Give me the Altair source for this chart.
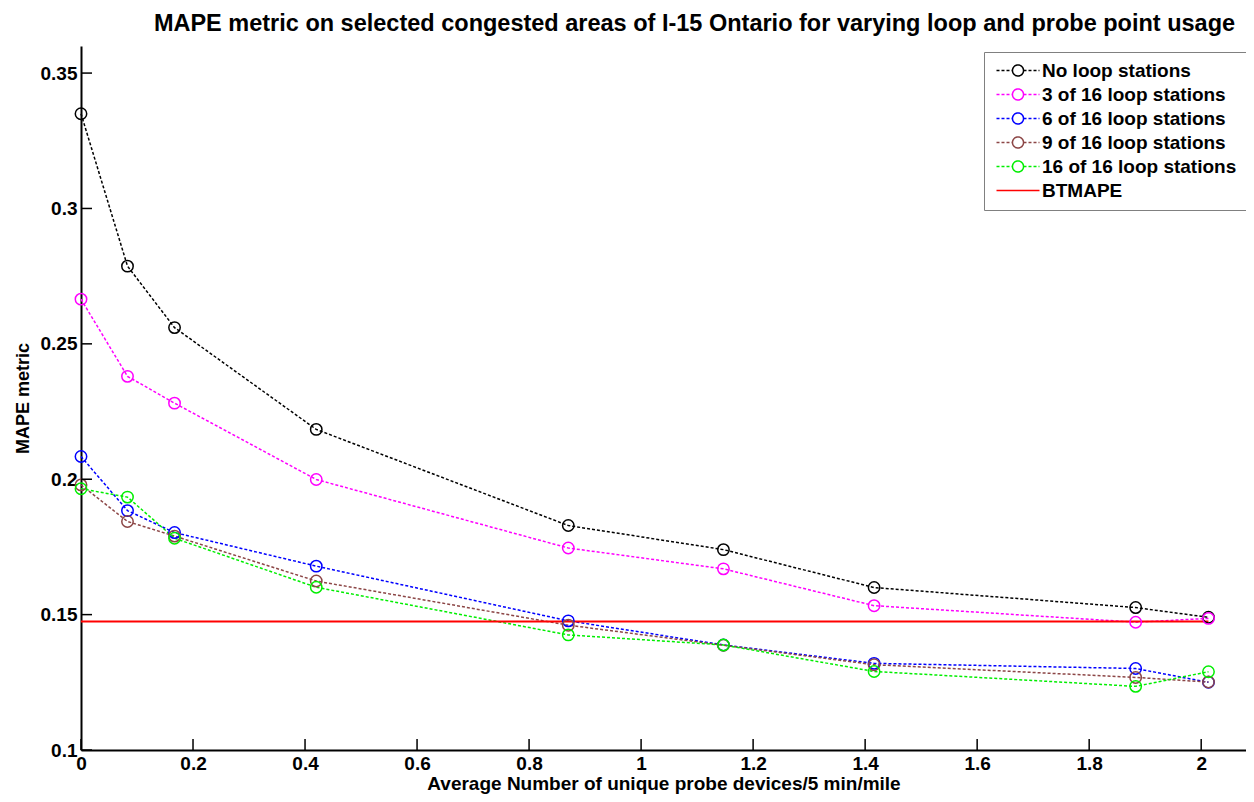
import altair as alt
import pandas as pd

# ---------------- data ----------------
x_vals = [0, 0.083, 0.167, 0.42, 0.87, 1.147, 1.416, 1.883, 2.013]
no_loop = [0.335, 0.2787, 0.256, 0.2184, 0.1829, 0.174, 0.160, 0.1526, 0.149]
loop3 = [0.2665, 0.238, 0.2281, 0.1999, 0.1746, 0.1669, 0.1533, 0.1472, 0.1486]
loop6 = [0.2084, 0.1884, 0.1803, 0.1679, 0.1477, 0.1388, 0.132, 0.1301, 0.125]
loop9 = [0.1979, 0.1844, 0.179, 0.1624, 0.1461, 0.1387, 0.1315, 0.1268, 0.1251]
loop16 = [0.1965, 0.1934, 0.1782, 0.1601, 0.1425, 0.1388, 0.129, 0.1235, 0.1289]
btmape = [0.1475] * len(x_vals)

series_names = ["No loop stations", "3 of 16 loop stations", "6 of 16 loop stations",
                "9 of 16 loop stations", "16 of 16 loop stations", "BTMAPE"]
series_colors = ["#000000", "#ff00ff", "#0000ff", "#8c4646", "#00ee00", "#ff0000"]

x_ticks = [0, 0.2, 0.4, 0.6, 0.8, 1.0, 1.2, 1.4, 1.6, 1.8, 2.0]
y_ticks = [0.1, 0.15, 0.2, 0.25, 0.3, 0.35]

title_text = "MAPE metric on selected congested areas of I-15 Ontario for varying loop and probe point usage"
x_title = "Average Number of unique probe devices/5 min/mile"
y_title = "MAPE metric"

# ---------------- tables ----------------
rows = []
for name, vals in zip(series_names[:5], [no_loop, loop3, loop6, loop9, loop16]):
    for xv, yv in zip(x_vals, vals):
        rows.append({"x": xv, "y": yv, "series": name})
df = pd.DataFrame(rows)
bt_df = pd.DataFrame({"x": x_vals, "y": btmape, "series": "BTMAPE"})
xt_df = pd.DataFrame({"x": x_ticks})
yt_df = pd.DataFrame({"y": y_ticks})

FONT = "Liberation Sans"
W, H = 1165, 704

xscale = alt.Scale(domain=[0, 2.08], nice=False, zero=False)
yscale = alt.Scale(domain=[0.1, 0.36], nice=False, zero=False)
cscale = alt.Scale(domain=series_names, range=series_colors)

xaxis = alt.Axis(values=x_ticks, format="~g", tickSize=0, labelPadding=4, labelFlush=False,
                 labelOverlap=False, grid=False, title=x_title, titleY=39,
                 titleBaseline="alphabetic")
yaxis = alt.Axis(values=y_ticks, format="~g", tickSize=0, labelPadding=4, labelFlush=False,
                 labelOverlap=False, grid=False, title=y_title, titleX=-53,
                 titleBaseline="alphabetic")

X = alt.X("x:Q", scale=xscale, axis=xaxis)
Y = alt.Y("y:Q", scale=yscale, axis=yaxis)

# legend symbol paths (unit = sqrt(size)/2 = 6 px)
def px2u(p):
    return round(p / 6.0 - 1.0, 3)

segs = []
for lo, hi in [(0, 16), (27, 43)]:
    s = lo
    while s < hi:
        e = min(s + 3, hi)
        segs.append("M%s,0L%s,0" % (px2u(s), px2u(e)))
        s += 5
cu, r = px2u(21.5), 0.92
circle = "M%s,0A%s,%s 0 1,1 %s,0A%s,%s 0 1,1 %s,0" % (
    round(cu + r, 3), r, r, round(cu - r, 3), r, r, round(cu + r, 3))
PATH_LOOP = "".join(segs) + circle
PATH_LINE = "M%s,0L%s,0" % (px2u(0), px2u(43))

symbol_expr = "datum.value === 'BTMAPE' ? '%s' : '%s'" % (PATH_LINE, PATH_LOOP)

legend = alt.Legend(
    title=None, orient="none", legendX=903, legendY=6,
    symbolType=alt.ExprRef(symbol_expr), symbolSize=144, symbolStrokeWidth=1.5,
    symbolFillColor="transparent", symbolDash=[1, 0], symbolOpacity=1,
    labelFont=FONT, labelFontSize=19, labelFontWeight="bold", labelColor="black",
    labelLimit=400, labelOffset=30, rowPadding=4, padding=9,
    strokeColor="#808080", fillColor="white",
)
C = alt.Color("series:N", scale=cscale, legend=legend)

lines = alt.Chart(df).mark_line(strokeDash=[3, 2], strokeWidth=1.5).encode(x=X, y=Y, color=C)
bt = alt.Chart(bt_df).mark_line(strokeWidth=2).encode(x=X, y=Y, color=C)
pts = alt.Chart(df).mark_point(filled=False, size=130, strokeWidth=1.5, opacity=1).encode(
    x=X, y=Y, color=C)
xt = alt.Chart(xt_df).mark_rule(color="black", strokeWidth=1.5).encode(
    x=X, y=alt.value(H), y2=alt.value(H - 11))
yt = alt.Chart(yt_df).mark_rule(color="black", strokeWidth=1.5).encode(
    y=Y, x=alt.value(0), x2=alt.value(11))

chart = alt.layer(lines, bt, pts, xt, yt).properties(
    width=W, height=H,
    title=alt.TitleParams(title_text, font=FONT, fontSize=23.5, fontWeight="bold",
                          color="black", anchor="middle", baseline="bottom",
                          offset=12, dx=31, dy=25),
    autosize=alt.AutoSizeParams(type="none"),
    padding={"left": 73, "top": 38, "right": 0, "bottom": 44},
).configure_view(stroke="transparent").configure_axis(
    labelFont=FONT, labelFontSize=19, labelFontWeight="bold", labelColor="black",
    titleFont=FONT, titleFontSize=19, titleFontWeight="bold", titleColor="black",
    domainColor="black", domainWidth=2,
).configure_axisY(titleFontSize=18)

chart.save("out.html", embed_options={"renderer": "svg", "actions": False})
